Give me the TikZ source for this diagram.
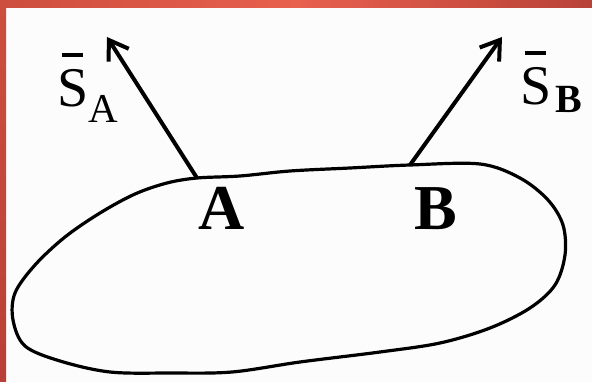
\documentclass[tikz,border=0pt]{standalone}
\usepackage{fontspec}
\setmainfont{Liberation Serif}
\usetikzlibrary{arrows.meta}
\definecolor{frameL}{RGB}{205,78,62}
\definecolor{frameM}{RGB}{232,96,78}
\definecolor{frameR}{RGB}{184,66,56}
\definecolor{frameB}{RGB}{185,64,55}
\definecolor{paper}{RGB}{252,252,252}
\newcommand{\barS}{\ooalign{S\cr\hidewidth\raisebox{0.9em}{\rule{0.38em}{0.06em}}\hidewidth\cr}}
\begin{document}
\begin{tikzpicture}[x=1pt,y=-1pt,
  outline/.style={line width=3.2pt, line join=round},
  vec/.style={line width=4pt, -{Straight Barb[length=18pt,width=24pt,line width=4pt]}},
  ptlabel/.style={anchor=base west, inner sep=0pt, font=\fontsize{64}{70}\selectfont\bfseries},
  vsym/.style={anchor=base west, inner sep=0pt, font=\fontsize{56}{62}\selectfont},
  vsub/.style={anchor=base west, inner sep=0pt, font=\fontsize{40}{46}\selectfont\bfseries}]
\useasboundingbox (0,0) rectangle (592,382);
\fill[paper] (0,0) rectangle (592,382);
\shade[left color=frameL, right color=frameR, middle color=frameM] (0,0) rectangle (592,8);
\shade[top color=frameL, bottom color=frameB] (0,0) rectangle (6,382);
% points on the outline
\coordinate (A) at (197,178);
\coordinate (B) at (410,165);
\coordinate (tA) at (107,37);
\coordinate (tB) at (502,37);
% closed outline
\draw[outline] plot[smooth cycle, tension=0.55] coordinates {
  (197,178) (240,176) (290,171) (350,168) (410,165) (480,164)
  (520,178) (548,200) (563,225) (565,255) (555,285) (530,308)
  (490,328) (440,343) (380,352) (300,362) (232,372) (170,373)
  (110,372) (60,361) (25,346) (13,320) (15,293) (35,265)
  (65,237) (100,213) (135,194) (167,183)};
% vectors
\draw[vec] (A) -- (tA);
\draw[vec] (B) -- (tB);
% labels
\node[ptlabel] (lA) at (198,230) {A};
\node[ptlabel] (lB) at (414,230) {B};
\node[vsym] (SA) at (57,107) {\barS};
\node[vsub, font=\fontsize{41}{46}\selectfont] (SAs) at (88,123) {A};
\node[vsym] (SB) at (520,105) {\barS};
\node[vsub] (SBs) at (555,113) {B};
\end{tikzpicture}
\end{document}
